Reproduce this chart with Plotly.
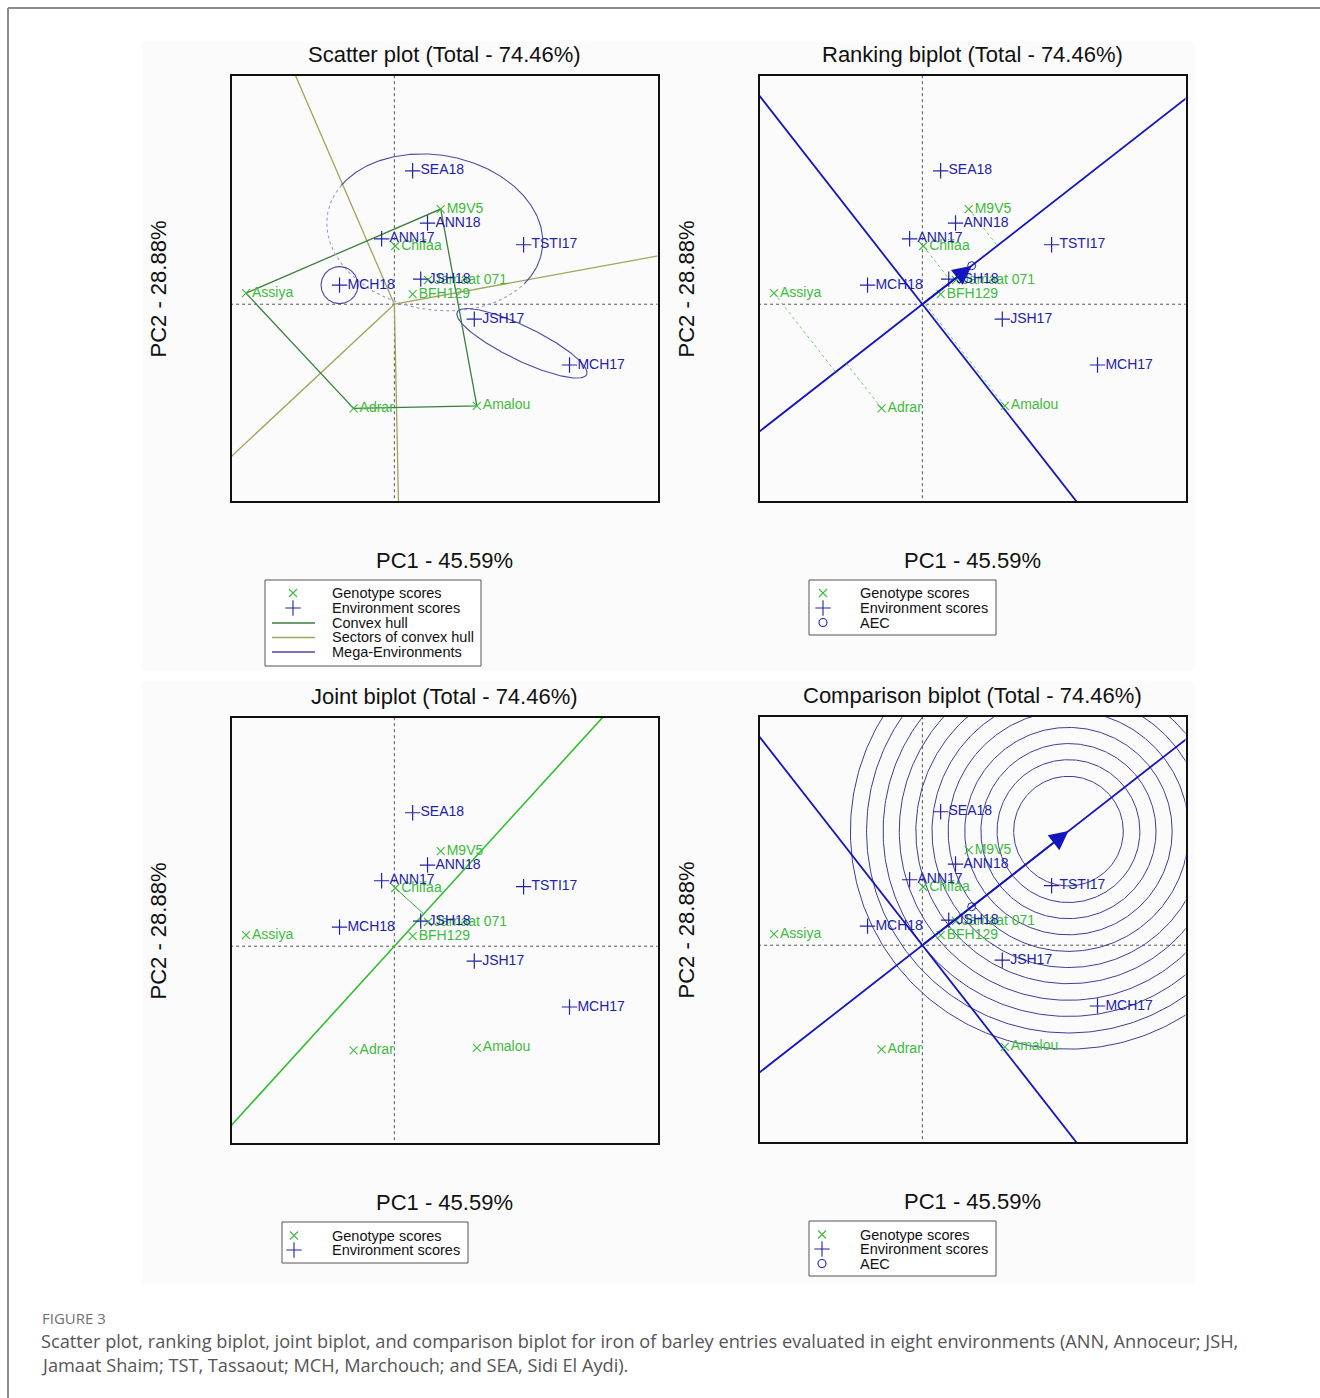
import numpy as np
import plotly.graph_objects as go

W, H = 1320, 1398

# ---------------- GGE biplot scores (PC1, PC2) ----------------
env_names = ["SEA18", "ANN18", "ANN17", "TSTI17", "MCH18", "JSH18", "JSH17", "MCH17"]
env_pc1 = [0.43, 0.78, -0.30, 3.04, -1.29, 0.62, 1.88, 4.12]
env_pc2 = [3.14, 1.91, 1.54, 1.40, 0.45, 0.59, -0.35, -1.43]

gen_names = ["M9V5", "Chifaa", "Jamaat 071", "BFH129", "Assiya", "Adrar", "Amalou"]
gen_pc1 = [1.09, 0.02, 0.79, 0.43, -3.49, -0.96, 1.94]
gen_pc2 = [2.24, 1.37, 0.57, 0.24, 0.26, -2.45, -2.39]

# convex hull vertices, in polygon order
hull_genotypes = ["Assiya", "M9V5", "Amalou", "Adrar"]

# mega-environment ellipses: centre, semi-axes, rotation (degrees)
mega_cx = [0.95, -1.29, 3.00]
mega_cy = [1.69, 0.45, -0.92]
mega_a = [2.56, 0.435, 1.69]
mega_b = [1.82, 0.435, 0.40]
mega_rot = [-10.0, 0.0, -25.8]

# joint biplot axis and examined genotype
joint_axis_deg = 47.7
joint_genotype = "Chifaa"

# concentric rings around the ideal environment
ring_radii = [1.29, 1.68, 2.06, 2.44, 2.83, 3.21, 3.59, 3.98, 4.36, 4.75, 5.13]

pc1_pct, pc2_pct, total_pct = "45.59%", "28.88%", "74.46%"
titles = ["Scatter plot", "Ranking biplot", "Joint biplot", "Comparison biplot"]

# ---------------- styling ----------------
FONT = "Liberation Sans, Arial, Helvetica, sans-serif"
C_GEN = "#3dbb3d"
C_ENV = "#2222a8"
C_HULL = "#3c7f3c"
C_SECT = "#a3a35a"
C_MEGA = "#4a4aa2"
C_AEC = "#1515c0"
C_RING = "#3d3d99"
C_AXIS = "#555555"

XR = [-3.82, 6.19]
YR = [-4.63, 5.37]
BIG = 40.0

# panel boxes in pixels: (left, top, right, bottom)
boxes = [(232, 76, 657.5, 501), (760, 76, 1185.5, 501),
         (232, 718, 657.5, 1143), (760, 717, 1185.5, 1142)]


def px(x):
    return x / W


def py(y):
    return 1 - y / H


env = np.column_stack([env_pc1, env_pc2])
gen = np.column_stack([gen_pc1, gen_pc2])
gidx = {n: i for i, n in enumerate(gen_names)}

fig = go.Figure()


def ax_ids(k):
    return ("x" if k == 1 else f"x{k}"), ("y" if k == 1 else f"y{k}")


def line(k, xs, ys, color, width=1.0, dash="solid"):
    xa, ya = ax_ids(k)
    fig.add_trace(go.Scatter(x=list(xs), y=list(ys), mode="lines", xaxis=xa, yaxis=ya,
                             line=dict(color=color, width=width, dash=dash),
                             hoverinfo="skip", showlegend=False))


def ellipse(cx, cy, a, b, rot, t0=0, t1=360, n=240):
    t = np.radians(np.linspace(t0, t1, n))
    th = np.radians(rot)
    x = cx + a * np.cos(t) * np.cos(th) - b * np.sin(t) * np.sin(th)
    y = cy + a * np.cos(t) * np.sin(th) + b * np.sin(t) * np.cos(th)
    return x, y


def zero_axes(k):
    line(k, [-BIG, BIG], [0, 0], C_AXIS, 1, "dot")
    line(k, [0, 0], [-BIG, BIG], C_AXIS, 1, "dot")


def mk(symbol, size, color, width=1.1):
    return dict(symbol=symbol, size=size, color=color, line=dict(color=color, width=width))


def points(k):
    xa, ya = ax_ids(k)
    fig.add_trace(go.Scatter(
        x=gen_pc1, y=gen_pc2, text=gen_names, mode="markers+text", xaxis=xa, yaxis=ya,
        marker=mk("x-thin", 8, C_GEN),
        textposition="middle right", textfont=dict(family=FONT, size=14, color=C_GEN),
        cliponaxis=False, hoverinfo="skip", showlegend=False))
    fig.add_trace(go.Scatter(
        x=env_pc1, y=env_pc2, text=env_names, mode="markers+text", xaxis=xa, yaxis=ya,
        marker=mk("cross-thin", 11, C_ENV, 1.2),
        textposition="middle right", textfont=dict(family=FONT, size=14, color=C_ENV),
        cliponaxis=False, hoverinfo="skip", showlegend=False))


# average environment coordination axis
aec = env.mean(axis=0)
u = aec / np.linalg.norm(aec)
v = np.array([-u[1], u[0]])
ideal = u * np.max(np.linalg.norm(env, axis=1))

# ---------- panel 1: scatter plot (which-won-where) ----------
zero_axes(1)
hull = np.array([gen[gidx[n]] for n in hull_genotypes])
for i in range(len(hull)):
    p, q = hull[i], hull[(i + 1) % len(hull)]
    e = q - p
    nvec = np.array([-e[1], e[0]])
    if nvec @ p < 0:
        nvec = -nvec
    nvec = nvec / np.linalg.norm(nvec)
    line(1, [0, nvec[0] * BIG], [0, nvec[1] * BIG], C_SECT, 1.3)
hc = np.vstack([hull, hull[:1]])
line(1, hc[:, 0], hc[:, 1], C_HULL, 1.3)
# first mega-environment: solid upper arc, dotted lower arc
ex, ey = ellipse(mega_cx[0], mega_cy[0], mega_a[0], mega_b[0], mega_rot[0], -27, 157)
line(1, ex, ey, C_MEGA, 1.1)
ex, ey = ellipse(mega_cx[0], mega_cy[0], mega_a[0], mega_b[0], mega_rot[0], 157, 333)
line(1, ex, ey, "#9a9ac8", 1.1, "dot")
for j in (1, 2):
    ex, ey = ellipse(mega_cx[j], mega_cy[j], mega_a[j], mega_b[j], mega_rot[j])
    line(1, ex, ey, C_MEGA, 1.1)
points(1)

# ---------- panel 2: ranking biplot ----------
zero_axes(2)
line(2, [-u[0] * BIG, u[0] * BIG], [-u[1] * BIG, u[1] * BIG], C_AEC, 1.8)
line(2, [-v[0] * BIG, v[0] * BIG], [-v[1] * BIG, v[1] * BIG], C_AEC, 1.8)
for g in gen:
    f = (g @ u) * u
    line(2, [g[0], f[0]], [g[1], f[1]], "#6fcf6f", 1, "dot")
points(2)
fig.add_trace(go.Scatter(x=[aec[0]], y=[aec[1]], mode="markers", xaxis="x2", yaxis="y2",
                         marker=mk("circle-open", 8, C_ENV, 1), hoverinfo="skip", showlegend=False))

# ---------- panel 3: joint biplot ----------
zero_axes(3)
d = np.array([np.cos(np.radians(joint_axis_deg)), np.sin(np.radians(joint_axis_deg))])
line(3, [-d[0] * BIG, d[0] * BIG], [-d[1] * BIG, d[1] * BIG], "#2fbf2f", 1.6)
g = gen[gidx[joint_genotype]]
f = (g @ d) * d
line(3, [g[0], f[0]], [g[1], f[1]], "#3fb43f", 1)
points(3)

# ---------- panel 4: comparison biplot ----------
zero_axes(4)
for r in ring_radii:
    ex, ey = ellipse(ideal[0], ideal[1], r, r, 0, 0, 360, 360)
    line(4, ex, ey, C_RING, 1)
line(4, [-u[0] * BIG, u[0] * BIG], [-u[1] * BIG, u[1] * BIG], C_AEC, 1.8)
line(4, [-v[0] * BIG, v[0] * BIG], [-v[1] * BIG, v[1] * BIG], C_AEC, 1.8)
points(4)
fig.add_trace(go.Scatter(x=[aec[0]], y=[aec[1]], mode="markers", xaxis="x4", yaxis="y4",
                         marker=mk("circle-open", 8, C_ENV, 1), hoverinfo="skip", showlegend=False))

annotations = []
# arrows along the AEC
for k, tip in ((2, aec), (4, ideal)):
    xa, ya = ax_ids(k)
    annotations.append(dict(x=tip[0], y=tip[1], ax=0, ay=0, xref=xa, yref=ya, axref=xa, ayref=ya,
                            text="", showarrow=True, arrowhead=2, arrowsize=2.1, arrowwidth=1.8,
                            arrowcolor=C_AEC))

# ---------- axes ----------
layout_axes = {}
for k, (l, t, r, b) in enumerate(boxes, start=1):
    sx = "xaxis" if k == 1 else f"xaxis{k}"
    sy = "yaxis" if k == 1 else f"yaxis{k}"
    common = dict(showgrid=False, zeroline=False, showticklabels=False, ticks="",
                  showline=True, mirror=True, linecolor="#111111", linewidth=1.6, fixedrange=True)
    layout_axes[sx] = dict(domain=[px(l), px(r)], range=XR, anchor=ax_ids(k)[1], **common)
    layout_axes[sy] = dict(domain=[py(b), py(t)], range=YR, anchor=ax_ids(k)[0], **common)

# overlay axis in pixel units for legend keys
layout_axes["xaxis5"] = dict(domain=[0, 1], range=[0, W], visible=False, anchor="y5", fixedrange=True)
layout_axes["yaxis5"] = dict(domain=[0, 1], range=[H, 0], visible=False, anchor="x5", fixedrange=True)

# ---------- titles ----------
centers = [((l + r) / 2, t, b) for (l, t, r, b) in boxes]
for k, (cx, t, b) in enumerate(centers):
    annotations.append(dict(x=px(cx), y=py(t - 22), xref="paper", yref="paper", showarrow=False,
                            text=f"{titles[k]} (Total - {total_pct})", xanchor="center", yanchor="middle",
                            font=dict(family=FONT, size=22, color="#111111")))
    annotations.append(dict(x=px(cx), y=py(b + 59), xref="paper", yref="paper", showarrow=False,
                            text=f"PC1 - {pc1_pct}", xanchor="center", yanchor="middle",
                            font=dict(family=FONT, size=22, color="#111111")))
    lx = 158 if k in (0, 2) else 686
    annotations.append(dict(x=px(lx), y=py((t + b) / 2 + 1), xref="paper", yref="paper", showarrow=False,
                            text=f"PC2 - {pc2_pct}", textangle=-90, xanchor="center", yanchor="middle",
                            font=dict(family=FONT, size=22, color="#111111")))

# ---------- backdrops, legends ----------
shapes = []
# faint panel backdrops
for (l, t, r, b) in [(142, 42, 668, 670), (668, 42, 1195, 670), (142, 682, 668, 1284), (668, 682, 1195, 1284)]:
    shapes.append(dict(type="rect", xref="paper", yref="paper", x0=px(l), x1=px(r), y0=py(b), y1=py(t),
                       line=dict(width=0), fillcolor="#fbfbfb", layer="below"))

legend_specs = [
    dict(box=(265, 580, 481, 666), sx=293, tx=331, ys=[593, 608, 623, 637.5, 652],
         items=[("x", "Genotype scores"), ("+", "Environment scores"), ("hull", "Convex hull"),
                ("sect", "Sectors of convex hull"), ("mega", "Mega-Environments")]),
    dict(box=(809, 580, 996, 635), sx=823, tx=859, ys=[593, 608, 622.5],
         items=[("x", "Genotype scores"), ("+", "Environment scores"), ("o", "AEC")]),
    dict(box=(282, 1222, 468, 1263), sx=294, tx=331, ys=[1235.5, 1250],
         items=[("x", "Genotype scores"), ("+", "Environment scores")]),
    dict(box=(809, 1221, 996, 1276), sx=822, tx=859, ys=[1234.5, 1249, 1263.5],
         items=[("x", "Genotype scores"), ("+", "Environment scores"), ("o", "AEC")]),
]
key_colors = {"hull": C_HULL, "sect": C_SECT, "mega": C_MEGA}
key_markers = {"x": ("x-thin", 8, C_GEN), "+": ("cross-thin", 11, C_ENV), "o": ("circle-open", 8, C_ENV)}
for spec in legend_specs:
    l, t, r, b = spec["box"]
    shapes.append(dict(type="rect", xref="paper", yref="paper", x0=px(l), x1=px(r), y0=py(b), y1=py(t),
                       line=dict(color="#555555", width=1), fillcolor="white", layer="below"))
    for (kind, label), yy in zip(spec["items"], spec["ys"]):
        if kind in key_colors:
            shapes.append(dict(type="line", xref="paper", yref="paper", x0=px(spec["sx"] - 21),
                               x1=px(spec["sx"] + 22), y0=py(yy), y1=py(yy),
                               line=dict(color=key_colors[kind], width=1.3), layer="above"))
        else:
            sym, size, col = key_markers[kind]
            fig.add_trace(go.Scatter(x=[spec["sx"]], y=[yy], mode="markers", xaxis="x5", yaxis="y5",
                                     marker=mk(sym, size, col, 1.1),
                                     hoverinfo="skip", showlegend=False))
        annotations.append(dict(x=px(spec["tx"] - 1), y=py(yy), xref="paper", yref="paper", showarrow=False,
                                text=label, xanchor="left", yanchor="middle",
                                font=dict(family=FONT, size=14.5, color="#111111")))

# page frame
shapes.append(dict(type="line", xref="paper", yref="paper", x0=px(8), x1=1, y0=py(8), y1=py(8),
                   line=dict(color="#8c8c8c", width=2), layer="above"))
shapes.append(dict(type="line", xref="paper", yref="paper", x0=px(8), x1=px(8), y0=py(8), y1=0,
                   line=dict(color="#8c8c8c", width=2), layer="above"))

# ---------- caption ----------
CAP = "Open Sans, Noto Sans, sans-serif"
annotations.append(dict(x=px(40), y=py(1318), xref="paper", yref="paper", showarrow=False,
                        text="FIGURE 3", xanchor="left", yanchor="middle",
                        font=dict(family=CAP, size=15, color="#707070")))
caption_lines = [
    "Scatter plot, ranking biplot, joint biplot, and comparison biplot for iron of barley entries "
    "evaluated in eight environments (ANN, Annoceur; JSH,",
    "Jamaat Shaim; TST, Tassaout; MCH, Marchouch; and SEA, Sidi El Aydi).",
]
for i, txt in enumerate(caption_lines):
    annotations.append(dict(x=px(39), y=py(1341 + 24 * i), xref="paper", yref="paper", showarrow=False,
                            text=txt, xanchor="left", yanchor="middle",
                            font=dict(family=CAP, size=18.2, color="#555555")))

fig.update_layout(width=W, height=H, margin=dict(l=0, r=0, t=0, b=0),
                  paper_bgcolor="white", plot_bgcolor="rgba(0,0,0,0)",
                  showlegend=False, annotations=annotations, shapes=shapes, **layout_axes)

fig.write_html("out.html")
